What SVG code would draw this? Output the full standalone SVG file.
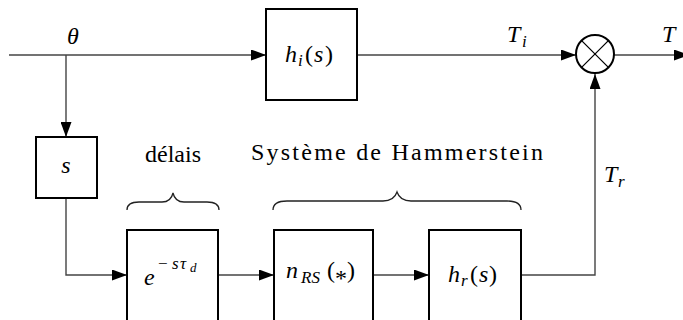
<svg xmlns="http://www.w3.org/2000/svg" width="683" height="320" viewBox="0 0 683 320">
<style>
.box{fill:#fff;stroke:#000;stroke-width:2}
.ln{fill:none;stroke:#444;stroke-width:1.4}
.br{fill:none;stroke:#222;stroke-width:1.3}
</style>
<defs>
<marker id="ah" markerWidth="15" markerHeight="11" refX="15" refY="5.5" orient="auto" markerUnits="userSpaceOnUse">
<path d="M0,0 L15,5.5 L0,11 Z" fill="#000"/>
</marker>
</defs>
<rect width="683" height="320" fill="#fff"/>
<g id="connectors">
<path class="ln" d="M9,55 L266,55" marker-end="url(#ah)"/>
<path class="ln" d="M66,55 L66,137" marker-end="url(#ah)"/>
<path class="ln" d="M357,55 L576,55" marker-end="url(#ah)"/>
<path class="ln" d="M614,55 L689,55" marker-end="url(#ah)"/>
<path class="ln" d="M66,198 L66,275 L127,275" marker-end="url(#ah)"/>
<path class="ln" d="M218,275 L274,275" marker-end="url(#ah)"/>
<path class="ln" d="M373,275 L429,275" marker-end="url(#ah)"/>
<path class="ln" d="M521,275 L595,275 L595,74" marker-end="url(#ah)"/>
</g>
<g id="hi">
<rect class="box" x="266" y="9" width="91" height="91"/>
<text font-family="Liberation Serif" font-size="24" y="62"><tspan font-style="italic" x="285">h</tspan><tspan font-style="italic" font-size="17" x="298" y="66">i</tspan><tspan x="305" y="62">(</tspan><tspan font-style="italic" x="314">s</tspan><tspan x="325">)</tspan></text>
</g>
<g id="mult">
<circle cx="595" cy="54" r="19" fill="#fff" stroke="#000" stroke-width="2"/>
<path d="M581.6,40.6 L608.4,67.4 M608.4,40.6 L581.6,67.4" stroke="#000" stroke-width="1.3"/>
</g>
<g id="s">
<rect class="box" x="36" y="137" width="61" height="61"/>
<text font-family="Liberation Serif" font-size="24" font-style="italic" x="66" y="173" text-anchor="middle">s</text>
</g>
<g id="delay">
<rect class="box" x="127" y="230" width="91" height="92"/>
<text font-family="Liberation Serif" font-size="24" y="285"><tspan font-style="italic" x="144">e</tspan><tspan font-size="17" x="158" y="269">−</tspan><tspan font-style="italic" font-size="17" x="172" y="269">s</tspan><tspan font-style="italic" font-size="17" x="180" y="269">τ</tspan><tspan font-style="italic" font-size="13" x="190" y="272">d</tspan></text>
</g>
<g id="nrs">
<rect class="box" x="274" y="230" width="99" height="92"/>
<text font-family="Liberation Serif" font-size="24" y="278"><tspan font-style="italic" x="286">n</tspan><tspan font-style="italic" font-size="17" x="301" y="283">RS</tspan><tspan x="327" y="278">(</tspan><tspan x="335" y="286">*</tspan><tspan x="347" y="278">)</tspan></text>
</g>
<g id="hr">
<rect class="box" x="429" y="230" width="92" height="92"/>
<text font-family="Liberation Serif" font-size="24" y="282"><tspan font-style="italic" x="448">h</tspan><tspan font-style="italic" font-size="17" x="461" y="286">r</tspan><tspan x="470" y="282">(</tspan><tspan font-style="italic" x="479">s</tspan><tspan x="489">)</tspan></text>
</g>
<g id="labels">
<text font-family="Liberation Serif" font-size="24" font-style="italic" x="73" y="44" text-anchor="middle">θ</text>
<text font-family="Liberation Serif" font-size="24" font-style="italic" y="42"><tspan x="507">T</tspan><tspan font-size="17" x="522" y="47">i</tspan></text>
<text font-family="Liberation Serif" font-size="24" font-style="italic" x="662" y="42">T</text>
<text font-family="Liberation Serif" font-size="24" font-style="italic" y="182"><tspan x="604">T</tspan><tspan font-size="17" x="618" y="187">r</tspan></text>
<text font-family="Liberation Serif" font-size="24" x="173" y="162" text-anchor="middle">délais</text>
<text font-family="Liberation Serif" font-size="24" x="251" y="160" textLength="292" lengthAdjust="spacing">Système de Hammerstein</text>
</g>
<g id="braces">
<path class="br" d="M127,210 Q127,202 139,202 L162,202 Q171,202 173,193 Q175,202 184,202 L207,202 Q219,202 219,210"/>
<path class="br" d="M273,210 Q273,201 287,201 L383,201 Q394,201 397,192 Q400,201 411,201 L507,201 Q521,201 521,210"/>
</g>
</svg>
